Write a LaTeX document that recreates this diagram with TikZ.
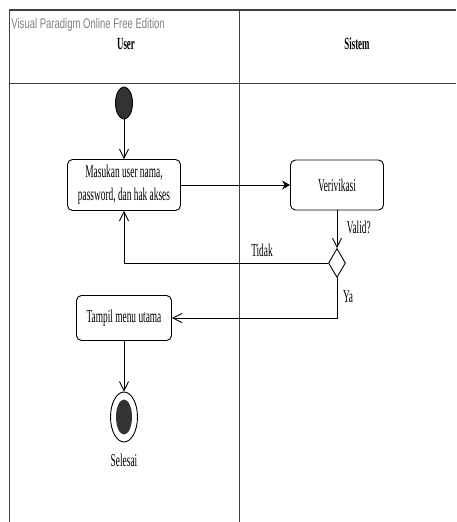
\documentclass[tikz,border=0pt]{standalone}
\usepackage{fontspec}
\newfontfamily\umlfont[FakeStretch=0.52]{Liberation Serif}
\newfontfamily\vpfont[FakeStretch=0.68]{Liberation Sans}
\usetikzlibrary{arrows.meta,shapes.geometric}

\begin{document}
\begin{tikzpicture}[x=1pt, y=-1pt, line width=0.9pt, >=Stealth,
    font=\umlfont\fontsize{18}{23}\selectfont,
    act/.style={draw, rounded corners=5pt, fill=white, align=center, inner sep=2pt},
    startdot/.style={draw, ellipse, fill=black!80, minimum width=17pt, minimum height=32pt, inner sep=0pt},
    enddot/.style={draw, ellipse, minimum width=27pt, minimum height=50pt, inner sep=0pt},
    endfill/.style={ellipse, fill=black!80, minimum width=16pt, minimum height=35pt, inner sep=0pt},
    decision/.style={draw, diamond, fill=white, minimum width=17pt, minimum height=29pt, inner sep=0pt},
    flow/.style={-{Straight Barb[length=9pt,width=9pt]}},
    lane/.style={line width=1pt, black!75}]
  \useasboundingbox (0,0) rectangle (456,522);
  % ---------------- swimlanes ----------------
  \draw[lane, line width=1.4pt] (9,10) -- (456,10);
  \draw[lane] (9,83) -- (456,83);
  \draw[lane] (9,10) -- (9,522);
  \draw[lane] (239,10) -- (239,522);
  \node[font=\vpfont\fontsize{14}{16}\selectfont, text=black!50, anchor=west, inner sep=0pt] (vp) at (11,25) {Visual Paradigm Online Free Edition};
  \node[font=\umlfont\bfseries\fontsize{17}{20}\selectfont] (user) at (126,44) {User};
  \node[font=\umlfont\bfseries\fontsize{17}{20}\selectfont] (sistem) at (357,44) {Sistem};
  % ---------------- activities ----------------
  \node[startdot] (start) at (124,103) {};
  \node[act, minimum width=113pt, minimum height=51pt] (masuk) at (124,185) {Masukan user nama,\\ password, dan hak akses};
  \node[act, minimum width=93pt, minimum height=50pt] (verif) at (337,185) {Verivikasi};
  \node[decision] (cek) at (337,263) {};
  \node[act, minimum width=95pt, minimum height=45pt] (tampil) at (124,318) {Tampil menu utama};
  \node[enddot] (akhir) at (124,417) {};
  \node[endfill] (akhirin) at (124,417) {};
  \node (selesai) at (124,460) {Selesai};
  % ---------------- flows ----------------
  \draw[flow] (start) -- (masuk);
  \draw[->, >={Stealth[length=8pt,width=9pt]}] (masuk) -- (verif);
  \draw[flow] (verif) -- (cek);
  \node[anchor=west] (valid) at (343,227) {Valid?};
  \draw[flow] (cek.west) -| (masuk.south);
  \node (tidak) at (262,250) {Tidak};
  \draw[flow] (cek.south) |- (tampil.east);
  \node (ya) at (348,297) {Ya};
  \draw[flow] (tampil) -- (akhir);
\end{tikzpicture}
\end{document}
